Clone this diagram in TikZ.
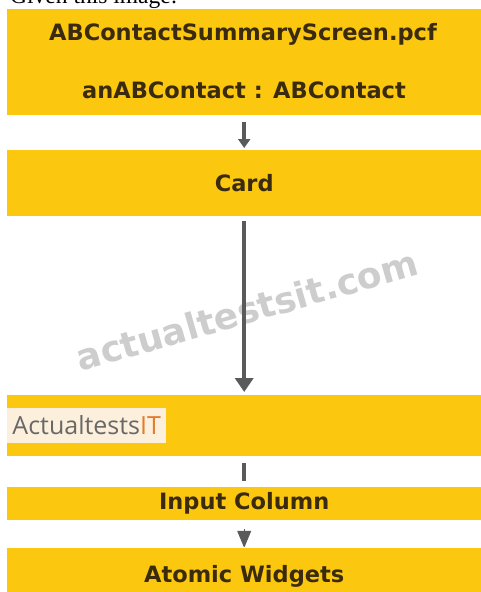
\documentclass[tikz,border=0pt]{standalone}
\usepackage{fontspec}
\usetikzlibrary{arrows.meta}
\newfontfamily\bandfont{DejaVu Sans}
\newfontfamily\logofont{Open Sans}
\newfontfamily\givenfont{Liberation Serif}
\definecolor{bandyellow}{HTML}{FBC70F}
\definecolor{bandtext}{HTML}{3A2A0E}
\definecolor{arrowgray}{HTML}{5A5A5A}
\definecolor{markgray}{HTML}{CDCDCD}
\definecolor{logobg}{HTML}{FCF0DC}
\definecolor{logogray}{HTML}{686868}
\definecolor{logoorange}{HTML}{E57A2C}
\begin{document}
\begin{tikzpicture}
[x=1pt, y=-1pt,
 band/.style={fill=bandyellow, minimum width=474pt, inner sep=0pt, anchor=north west, text=bandtext, font=\bandfont\bfseries\fontsize{22.5}{27}\selectfont},
 bandlabel/.style={text=bandtext, inner sep=0pt, font=\bandfont\bfseries\fontsize{22.5}{27}\selectfont},
 flow/.style={draw=arrowgray, line width=#1}]
\useasboundingbox (0,0) rectangle (481,592);
\node [anchor=base west, inner sep=0pt, font=\givenfont\fontsize{23.5}{28}\selectfont] (given) at (10,3) {Given this image:};
\node [band, minimum height=106pt] (screen) at (7,9) {};
\node [bandlabel] (pcf) at (243,34) {ABContactSummaryScreen.pcf};
\node [bandlabel] (contact) at (244,90) {anABContact : ABContact};
\node [band, minimum height=66pt] (card) at (7,150) {Card};
\node [band, minimum height=61pt] (panel) at (7,395) {};
\node [band, minimum height=33pt] (column) at (7,487) {Input Column};
\node [band, minimum height=56pt] (widgets) at (7,548) {Atomic Widgets};
\node [rotate=16, text=markgray, font=\bandfont\bfseries\fontsize{36}{40}\selectfont] (mark) at (247,310) {actualtestsit.com};
\node [anchor=west, fill=logobg, minimum width=159pt, minimum height=35pt, inner sep=3pt, font=\logofont\fontsize{25}{30}\selectfont] (logo) at (7,425.5) {\textcolor{logogray}{Actualtests}\textcolor{logoorange}{IT}};
\draw [flow=4pt, -{Triangle[length=9pt,width=12pt]}, shorten <=7pt, shorten >=2pt] (screen.south) -- (card.north);
\draw [flow=3.5pt, -{Triangle[length=14pt,width=18pt]}, shorten <=5pt, shorten >=3pt] (card.south) -- (panel.north);
\draw [flow=4pt, shorten <=7pt, shorten >=6pt] (panel.south) -- (column.north);
\draw [flow=1pt, -{Triangle[length=17pt,width=14pt,round]}, shorten <=9pt, shorten >=1pt] (column.south) -- (widgets.north);
\end{tikzpicture}
\end{document}
